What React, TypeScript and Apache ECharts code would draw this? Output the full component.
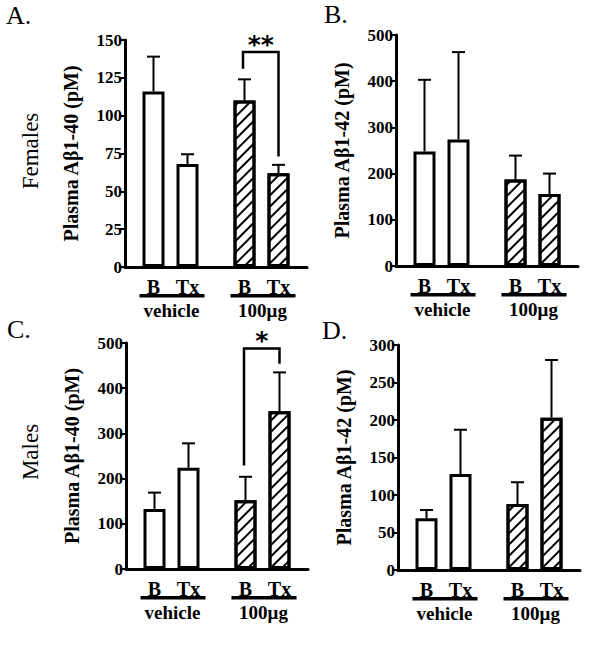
import React, { useEffect, useRef } from "react";
import * as echarts from "echarts";

// ---------- data ----------
const groups = ["vehicle", "100μg"];
const treatments = ["B", "Tx"];

// Panel A – Females, Aβ1-40
const aBMean = [116, 110];
const aBSem = [23, 14];
const aTxMean = [68, 62];
const aTxSem = [6.5, 5.5];

// Panel B – Females, Aβ1-42
const bBMean = [248, 187];
const bBSem = [155, 52];
const bTxMean = [274, 156];
const bTxSem = [189, 44];

// Panel C – Males, Aβ1-40
const cBMean = [133, 152];
const cBSem = [36, 52];
const cTxMean = [224, 349];
const cTxSem = [54, 86];

// Panel D – Males, Aβ1-42
const dBMean = [69, 88];
const dBSem = [11, 29];
const dTxMean = [128, 203];
const dTxSem = [59, 77];

const yMaxes = [150, 500, 500, 300];
const yIntervals = [25, 100, 100, 50];
const yTitles = ["Plasma Aβ1-40 (pM)", "Plasma Aβ1-42 (pM)", "Plasma Aβ1-40 (pM)", "Plasma Aβ1-42 (pM)"];
const panelLetters = ["A.", "B.", "C.", "D."];
const rowLabels = ["Females", "Males"];

// significance brackets: [groupIndex, top, leftEnd, rightEnd]
const aBracket = [1, 142, 131, 73];
const aBracketLabel = "**";
const cBracket = [1, 488, 229, 454];
const cBracketLabel = "*";

// ---------- styles ----------
const SERIF = '"Liberation Serif", "Times New Roman", serif';
const BAR_W = 22;
const BAR_GAP = 12;
const PITCH = BAR_W + BAR_GAP;
const CAP = 6.5;

const grids = [
  { left: 125, top: 40, width: 182, height: 227 },
  { left: 396, top: 35, width: 182, height: 231 },
  { left: 126, top: 343, width: 182, height: 226 },
  { left: 398, top: 345, width: 182, height: 225 },
];

const hatch = {
  symbol: "rect",
  symbolSize: 1,
  color: "#000",
  dashArrayX: [1, 0],
  dashArrayY: [1.6, 5.2],
  rotation: -Math.PI / 4,
};

const panels = [
  { b: aBMean, bs: aBSem, t: aTxMean, ts: aTxSem, bracket: aBracket, label: aBracketLabel },
  { b: bBMean, bs: bBSem, t: bTxMean, ts: bTxSem, bracket: null, label: "" },
  { b: cBMean, bs: cBSem, t: cTxMean, ts: cTxSem, bracket: cBracket, label: cBracketLabel },
  { b: dBMean, bs: dBSem, t: dTxMean, ts: dTxSem, bracket: null, label: "" },
];

function buildOption() {
  const series: any[] = [];
  const xAxis: any[] = [];
  const yAxis: any[] = [];
  const grid: any[] = [];

  panels.forEach((p, i) => {
    grid.push({ ...grids[i], containLabel: false });
    xAxis.push({
      type: "category",
      gridIndex: i,
      data: groups,
      axisLine: { show: true, lineStyle: { color: "#000", width: 3 } },
      axisTick: { show: false },
      axisLabel: { show: false },
      splitLine: { show: false },
    });
    yAxis.push({
      type: "value",
      gridIndex: i,
      min: 0,
      max: yMaxes[i],
      interval: yIntervals[i],
      name: yTitles[i],
      nameLocation: "middle",
      nameGap: 44,
      nameTextStyle: { fontFamily: SERIF, fontWeight: "bold", fontSize: 20, color: "#000" },
      axisLine: { show: true, lineStyle: { color: "#000", width: 3 } },
      axisTick: { show: true, length: 6, lineStyle: { color: "#000", width: 2 } },
      axisLabel: { fontFamily: SERIF, fontWeight: "bold", fontSize: 17, color: "#000", margin: 3 },
      splitLine: { show: false },
    });

    const vals = [p.b, p.t];
    vals.forEach((arr, ti) => {
      series.push({
        type: "bar",
        name: treatments[ti],
        xAxisIndex: i,
        yAxisIndex: i,
        barWidth: BAR_W,
        barGap: (BAR_GAP / BAR_W) * 100 + "%",
        data: arr.map((v, gi) => ({
          value: v,
          itemStyle: gi === 1 ? { decal: hatch } : {},
        })),
        itemStyle: { color: "#fff", borderColor: "#000", borderWidth: 3 },
      });
    });

    const errData: number[][] = [];
    groups.forEach((_, gi) => {
      errData.push([gi, 0, p.b[gi], p.bs[gi]]);
      errData.push([gi, 1, p.t[gi], p.ts[gi]]);
    });
    series.push({
      type: "custom",
      xAxisIndex: i,
      yAxisIndex: i,
      encode: { x: 0, y: 2 },
      data: errData,
      z: 5,
      renderItem: (params: any, api: any) => {
        const cat = api.value(0);
        const t = api.value(1);
        const m = api.value(2);
        const s = api.value(3);
        const base = api.coord([cat, m]);
        const top = api.coord([cat, m + s]);
        const x = base[0] + (t - 0.5) * PITCH;
        return {
          type: "group",
          children: [
            { type: "line", shape: { x1: x, y1: base[1], x2: x, y2: top[1] }, style: { stroke: "#000", lineWidth: 2 } },
            { type: "line", shape: { x1: x - CAP, y1: top[1], x2: x + CAP, y2: top[1] }, style: { stroke: "#000", lineWidth: 2 } },
          ],
        };
      },
    });

    // category labels below axis
    series.push({
      type: "custom",
      xAxisIndex: i,
      yAxisIndex: i,
      encode: { x: 0, y: 1 },
      data: groups.map((_, gi) => [gi, 0]),
      clip: false,
      silent: true,
      renderItem: (params: any, api: any) => {
        const gi = api.value(0);
        const c = api.coord([gi, 0]);
        const font = `bold 20px ${SERIF}`;
        return {
          type: "group",
          children: [
            { type: "text", x: c[0] - PITCH / 2, y: c[1] + 20, style: { text: treatments[0], font, fill: "#000", align: "center", verticalAlign: "middle" } },
            { type: "text", x: c[0] + PITCH / 2, y: c[1] + 20, style: { text: treatments[1], font, fill: "#000", align: "center", verticalAlign: "middle" } },
            { type: "rect", shape: { x: c[0] - 31, y: c[1] + 27, width: 65, height: 3.5 }, style: { fill: "#000" } },
            { type: "text", x: c[0] + 1, y: c[1] + 43, style: { text: groups[gi], font: `bold 19px ${SERIF}`, fill: "#000", align: "center", verticalAlign: "middle" } },
          ],
        };
      },
    });

    if (p.bracket) {
      const lbl = p.label;
      series.push({
        type: "custom",
        xAxisIndex: i,
        yAxisIndex: i,
        encode: { x: 0, y: 1 },
        data: [p.bracket],
        clip: false,
        z: 6,
        renderItem: (params: any, api: any) => {
          const g = api.value(0);
          const topV = api.value(1);
          const lV = api.value(2);
          const rV = api.value(3);
          const ct = api.coord([g, topV]);
          const yl = api.coord([g, lV])[1];
          const yr = api.coord([g, rV])[1];
          const xl = ct[0] - PITCH / 2 - 1.5;
          const xr = ct[0] + PITCH / 2;
          return {
            type: "group",
            children: [
              {
                type: "polyline",
                shape: { points: [[xl, yl], [xl, ct[1]], [xr, ct[1]], [xr, yr]] },
                style: { stroke: "#000", lineWidth: 2.5, fill: "none" },
              },
              {
                type: "text",
                x: (xl + xr) / 2,
                y: ct[1] - 8,
                style: { text: lbl, font: `bold 25px "DejaVu Sans", sans-serif`, fill: "#000", align: "center", verticalAlign: "middle" },
              },
            ],
          };
        },
      });
    }
  });

  const letterPos = [
    { x: 6, y: 2 },
    { x: 324, y: 1 },
    { x: 7, y: 316 },
    { x: 322, y: 317 },
  ];
  const rowPos = [
    { x: 30, y: 151 },
    { x: 30, y: 452 },
  ];
  const graphic: any[] = [];
  panelLetters.forEach((l, i) => {
    graphic.push({
      type: "text",
      x: letterPos[i].x,
      y: letterPos[i].y,
      style: { text: l, font: `26px ${SERIF}`, fill: "#000", align: "left", verticalAlign: "top" },
    });
  });
  rowLabels.forEach((l, i) => {
    graphic.push({
      type: "text",
      x: rowPos[i].x,
      y: rowPos[i].y,
      rotation: Math.PI / 2,
      style: { text: l, font: `23px ${SERIF}`, fill: "#000", align: "center", verticalAlign: "middle" },
    });
  });

  return {
    animation: false,
    backgroundColor: "#fff",
    grid,
    xAxis,
    yAxis,
    series,
    graphic,
  };
}

export default function App() {
  const ref = useRef<HTMLDivElement>(null);
  useEffect(() => {
    document.body.style.margin = "0";
    if (!ref.current) return;
    const chart = echarts.init(ref.current, undefined, { renderer: "svg" });
    chart.setOption(buildOption());
    return () => chart.dispose();
  }, []);
  return <div ref={ref} style={{ width: 600, height: 647 }} />;
}
